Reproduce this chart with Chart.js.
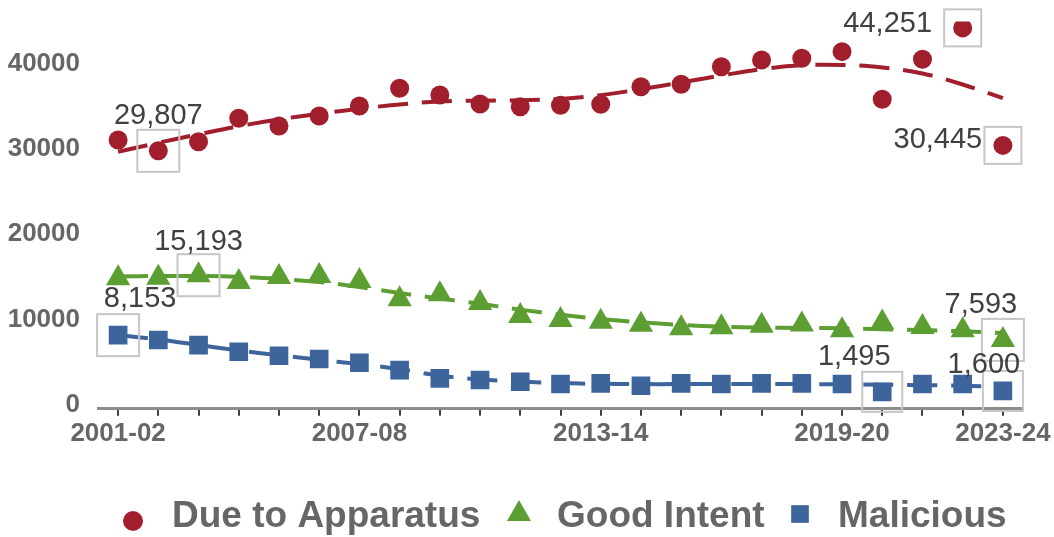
<!DOCTYPE html>
<html>
<head>
<meta charset="utf-8">
<script src="https://cdn.jsdelivr.net/npm/chart.js@4/dist/chart.umd.min.js"></script>
<style>
  html, body { margin: 0; padding: 0; background: #ffffff; }
  #wrap { width: 1054px; height: 537px; position: relative; }
</style>
</head>
<body>
<div id="wrap"><canvas id="chart" width="1054" height="537"></canvas></div>
<script>
// Financial years on the x axis
const years = [
  '2001-02', '2002-03', '2003-04', '2004-05', '2005-06', '2006-07', '2007-08',
  '2008-09', '2009-10', '2010-11', '2011-12', '2012-13', '2013-14', '2014-15',
  '2015-16', '2016-17', '2017-18', '2018-19', '2019-20', '2020-21', '2021-22',
  '2022-23', '2023-24'
];
// Years that carry a printed tick label
const labelledYears = ['2001-02', '2007-08', '2013-14', '2019-20', '2023-24'];
// Value axis tick labels
const valueTicks = [0, 10000, 20000, 30000, 40000];

// False alarms per year, by type
const dueToApparatus = [31080, 29807, 30880, 33630, 32730, 33900, 35080, 37160, 36370, 35310, 34990, 35160,
                        35280, 37340, 37630, 39690, 40480, 40680, 41460, 35860, 40560, 44251, 30445];
const goodIntent     = [14840, 14900, 15193, 14400, 14980, 15100, 14520, 12360, 12950, 11920, 10400, 9930,
                        9740, 9370, 8950, 9070, 9260, 9410, 8730, 9640, 9100, 8730, 7593];
const malicious      = [8153, 7580, 6990, 6200, 5730, 5350, 4910, 4050, 3080, 2880, 2680, 2410,
                        2490, 2210, 2490, 2410, 2490, 2490, 2410, 1495, 2410, 2410, 1600];

// Trend curves through each series, per year
const dueToApparatusTrend = [29700, 30750, 31750, 32700, 33500, 34150, 34750, 35250, 35600, 35700, 35750, 35900,
                             36350, 37050, 37850, 38650, 39400, 39850, 39900, 39600, 38900, 37600, 36000];
const goodIntentTrend     = [15050, 15100, 15100, 15000, 14750, 14400, 13800, 13100, 12450, 11850, 11150, 10550,
                             10050, 9650, 9350, 9150, 9050, 9000, 8950, 8850, 8750, 8600, 8400];
const maliciousTrend      = [8170, 7640, 7000, 6350, 5800, 5250, 4750, 4150, 3400, 2950, 2700, 2520,
                             2430, 2400, 2400, 2400, 2400, 2400, 2380, 2340, 2280, 2200, 2100];

const seriesNames = ['Due to Apparatus', 'Good Intent', 'Malicious'];
const seriesValues = [dueToApparatus, goodIntent, malicious];
const trendValues = [dueToApparatusTrend, goodIntentTrend, maliciousTrend];

// Styling
const colours = ['#A11F2D', '#5C9E32', '#3D659C'];
const markerStyles = ['circle', 'triangle', 'rect'];
const markerRadii = [9.5, 14, 13.2];
const legendRadii = [10, 13.9, 12.5];
const FONT = "'Liberation Sans', Arial, Helvetica, sans-serif";

// Points that carry a value callout (series, year index, text offset, box size)
const callouts = [
  { series: 0, index: 1,  dx: 0,   dy: -35, box: 42 },
  { series: 0, index: 21, dx: -75, dy: -4,  box: 37 },
  { series: 0, index: 22, dx: -65, dy: -5,  box: 37 },
  { series: 1, index: 2,  dx: 0,   dy: -33, box: 42 },
  { series: 1, index: 22, dx: -22, dy: -35, box: 42 },
  { series: 2, index: 0,  dx: 22,  dy: -36, box: 42 },
  { series: 2, index: 19, dx: -28, dy: -35, box: 40 },
  { series: 2, index: 22, dx: -19, dy: -26, box: 40 }
];

// Key layout: marker centres, text starts, baseline
const keyMarkerX = [133, 519, 800];
const keyMarkerY = [521, 514, 514];
const keyTextX = [172, 557, 838];
const keyBaseline = 526.5;

const markerSets = seriesValues.map((vals, i) => ({
  label: seriesNames[i],
  data: vals,
  showLine: false,
  pointStyle: markerStyles[i],
  pointRadius: markerRadii[i],
  pointHoverRadius: markerRadii[i],
  backgroundColor: colours[i],
  borderColor: colours[i],
  pointBorderWidth: 0,
  pointHoverBorderWidth: 0
}));

const trendSets = trendValues.map((vals, i) => ({
  label: seriesNames[i] + ' trend',
  data: vals,
  pointRadius: 0,
  pointHoverRadius: 0,
  borderColor: colours[i],
  borderWidth: 4,
  borderDash: [30, 14],
  borderCapStyle: 'butt',
  tension: 0.4,
  fill: false
}));

// Boxes and value labels around highlighted points
const calloutPlugin = {
  id: 'valueCallouts',
  afterDatasetsDraw(chart) {
    const ctx = chart.ctx;
    ctx.save();
    ctx.font = '29px ' + FONT;
    ctx.textAlign = 'center';
    ctx.textBaseline = 'middle';
    callouts.forEach(c => {
      const pt = chart.getDatasetMeta(c.series).data[c.index];
      const v = seriesValues[c.series][c.index];
      ctx.strokeStyle = '#C6C6C6';
      ctx.lineWidth = 2;
      ctx.strokeRect(pt.x - c.box / 2, pt.y - c.box / 2, c.box, c.box);
      ctx.fillStyle = '#404040';
      ctx.fillText(v.toLocaleString('en-US'), pt.x + c.dx, pt.y + c.dy);
    });
    ctx.restore();
  }
};

// Series key along the bottom
const keyPlugin = {
  id: 'seriesKey',
  afterDraw(chart) {
    const ctx = chart.ctx;
    ctx.save();
    ctx.font = 'bold 37px ' + FONT;
    seriesNames.forEach((name, i) => {
      ctx.fillStyle = colours[i];
      Chart.helpers.drawPoint(ctx, { pointStyle: markerStyles[i], radius: legendRadii[i], rotation: 0, borderWidth: 0 },
        keyMarkerX[i], keyMarkerY[i]);
      ctx.fillStyle = '#666666';
      ctx.textAlign = 'left';
      ctx.textBaseline = 'alphabetic';
      ctx.fillText(name, keyTextX[i], keyBaseline);
    });
    ctx.restore();
  }
};

new Chart(document.getElementById('chart'), {
  type: 'line',
  data: { labels: years, datasets: [...markerSets, ...trendSets] },
  options: {
    responsive: false,
    animation: false,
    events: [],
    layout: { padding: { left: 0, right: 31, top: 21.5, bottom: 0 } },
    plugins: { legend: { display: false }, tooltip: { enabled: false } },
    scales: {
      x: {
        type: 'category',
        offset: true,
        grid: { display: true, drawOnChartArea: false, drawTicks: true, tickLength: 7, color: '#404040', lineWidth: 2, offset: false },
        border: { display: true, color: '#8C8C8C', width: 3 },
        ticks: {
          autoSkip: false, maxRotation: 0, minRotation: 0, padding: 2,
          color: '#666666',
          font: { family: FONT, size: 26, weight: 'bold' },
          callback: (v) => labelledYears.includes(years[v]) ? years[v] : ''
        },
        afterFit: s => { s.height = 128.2; s.paddingLeft = 0; s.paddingRight = 0; }
      },
      y: {
        min: -500,
        max: 45000,
        afterBuildTicks: s => { s.ticks = valueTicks.map(v => ({ value: v })); },
        grid: { display: false, drawTicks: false },
        border: { display: false },
        ticks: {
          padding: 18,
          color: '#666666',
          font: { family: FONT, size: 26, weight: 'bold' },
          callback: v => String(v)
        },
        afterFit: s => { s.width = 98; s.paddingTop = 0; s.paddingBottom = 0; }
      }
    }
  },
  plugins: [calloutPlugin, keyPlugin]
});
</script>
</body>
</html>
